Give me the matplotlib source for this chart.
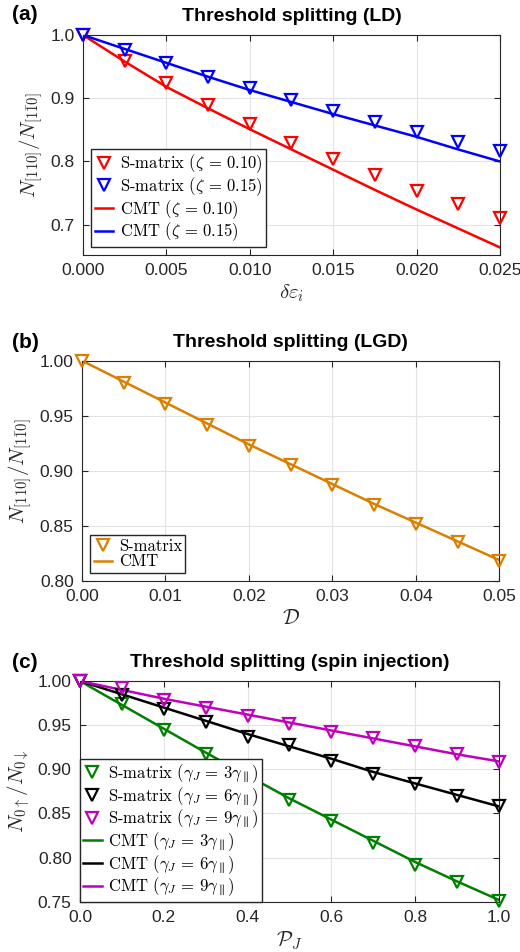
import numpy as np
import matplotlib.pyplot as plt

plt.rcParams['font.family'] = ['Liberation Sans', 'DejaVu Sans']
plt.rcParams['mathtext.fontset'] = 'cm'

# (a) LD
x_a = [0, 0.0025, 0.005, 0.0075, 0.010, 0.0125, 0.015, 0.0175, 0.020, 0.0225, 0.025]
s_a10 = [1.0, 0.959, 0.924, 0.889, 0.859, 0.829, 0.804, 0.779, 0.754, 0.733, 0.711]
s_a15 = [1.0, 0.977, 0.955, 0.934, 0.916, 0.897, 0.880, 0.863, 0.847, 0.831, 0.817]
c_a10 = [1.0, 0.958, 0.918, 0.884, 0.851, 0.819, 0.787, 0.755, 0.724, 0.694, 0.664]
c_a15 = [1.0, 0.978, 0.956, 0.934, 0.913, 0.894, 0.875, 0.857, 0.839, 0.819, 0.800]

# (b) LGD
x_b = [0, 0.005, 0.010, 0.015, 0.020, 0.025, 0.030, 0.035, 0.040, 0.045, 0.050]
s_b = [1.0, 0.980, 0.961, 0.942, 0.923, 0.905, 0.887, 0.869, 0.852, 0.835, 0.818]
c_b = [1.0, 0.981, 0.962, 0.943, 0.924, 0.906, 0.888, 0.870, 0.853, 0.836, 0.819]

# (c) spin injection
x_c = [0, 0.1, 0.2, 0.3, 0.4, 0.5, 0.6, 0.7, 0.8, 0.9, 1.0]
s_c3 = [1.0, 0.974, 0.945, 0.917, 0.893, 0.865, 0.841, 0.817, 0.792, 0.772, 0.751]
s_c6 = [1.0, 0.984, 0.968, 0.954, 0.937, 0.927, 0.909, 0.895, 0.883, 0.870, 0.858]
s_c9 = [1.0, 0.992, 0.979, 0.970, 0.960, 0.951, 0.942, 0.935, 0.926, 0.917, 0.908]
c_c3 = [1.0, 0.973, 0.946, 0.919, 0.893, 0.867, 0.843, 0.819, 0.795, 0.773, 0.752]
c_c6 = [1.0, 0.985, 0.970, 0.955, 0.940, 0.926, 0.912, 0.897, 0.884, 0.871, 0.858]
c_c9 = [1.0, 0.990, 0.980, 0.971, 0.962, 0.953, 0.944, 0.935, 0.926, 0.917, 0.909]

dark = '#262626'
orange = '#DA7F00'
green = '#008000'
magenta = '#BF00BF'

fig = plt.figure(figsize=(5.2, 9.52), dpi=100)
ax1 = fig.add_axes([0.1596, 0.7321, 0.8019, 0.2311])
ax2 = fig.add_axes([0.1577, 0.3897, 0.8025, 0.2314])
ax3 = fig.add_axes([0.1538, 0.0528, 0.8058, 0.2318])

mk = dict(marker='v', ls='none', ms=8.5, mfc='none', mew=1.6, clip_on=False, zorder=3)
lw = 1.8

def style(ax):
    ax.grid(True, color='#e3e3e3', lw=0.8)
    ax.set_axisbelow(True)
    ax.tick_params(direction='in', top=True, right=True, length=4, pad=6,
                   labelsize=12.5, colors=dark, width=0.8)
    for s in ax.spines.values():
        s.set_color(dark)
        s.set_linewidth(0.8)

leg_kw = dict(prop={'family': 'cmr10', 'size': 12}, fancybox=False,
              edgecolor=dark, framealpha=1, handlelength=1.1,
              handletextpad=0.4, borderpad=0.2, labelspacing=0.0)

# panel (a)
ax1.plot(x_a, s_a10, color='red', label=r'S-matrix ($\zeta\,=\,0.10$)', **mk)
ax1.plot(x_a, s_a15, color='blue', label=r'S-matrix ($\zeta\,=\,0.15$)', **mk)
ax1.plot(x_a, c_a10, color='red', lw=lw, label=r'CMT ($\zeta\,=\,0.10$)')
ax1.plot(x_a, c_a15, color='blue', lw=lw, label=r'CMT ($\zeta\,=\,0.15$)')
ax1.set_xlim(0, 0.025)
ax1.set_ylim(0.652, 1.0)
ax1.set_xticks([0, 0.005, 0.010, 0.015, 0.020, 0.025])
ax1.set_xticklabels(['0.000', '0.005', '0.010', '0.015', '0.020', '0.025'])
ax1.set_yticks([0.7, 0.8, 0.9, 1.0])
ax1.set_yticklabels(['0.7', '0.8', '0.9', '1.0'])
style(ax1)
ax1.set_xlabel(r'$\delta\varepsilon_i$', fontsize=15, color=dark, labelpad=3)
ax1.set_ylabel(r'$N_{[110]}/N_{[1\bar{1}0]}$', fontsize=15, color=dark, labelpad=4)
ax1.set_title('Threshold splitting (LD)', fontsize=14, fontweight='bold', pad=10)
ax1.legend(loc='lower left', **leg_kw)

# panel (b)
ax2.plot(x_b, s_b, color=orange, label='S-matrix', **mk)
ax2.plot(x_b, c_b, color=orange, lw=lw, label='CMT')
ax2.set_xlim(0, 0.05)
ax2.set_ylim(0.80, 1.00)
ax2.set_xticks([0, 0.01, 0.02, 0.03, 0.04, 0.05])
ax2.set_xticklabels(['0.00', '0.01', '0.02', '0.03', '0.04', '0.05'])
ax2.set_yticks([0.80, 0.85, 0.90, 0.95, 1.00])
ax2.set_yticklabels(['0.80', '0.85', '0.90', '0.95', '1.00'])
style(ax2)
ax2.set_xlabel(r'$\mathcal{D}$', fontsize=15, color=dark, labelpad=3)
ax2.set_ylabel(r'$N_{[110]}/N_{[1\bar{1}0]}$', fontsize=15, color=dark, labelpad=4)
ax2.set_title('Threshold splitting (LGD)', fontsize=14, fontweight='bold', pad=10)
ax2.legend(loc='lower left', **leg_kw)

# panel (c)
ax3.plot(x_c, s_c3, color=green, label=r'S-matrix ($\gamma_J\,=\,3\gamma_\parallel$)', **mk)
ax3.plot(x_c, s_c6, color='black', label=r'S-matrix ($\gamma_J\,=\,6\gamma_\parallel$)', **mk)
ax3.plot(x_c, s_c9, color=magenta, label=r'S-matrix ($\gamma_J\,=\,9\gamma_\parallel$)', **mk)
ax3.plot(x_c, c_c3, color=green, lw=lw, label=r'CMT ($\gamma_J\,=\,3\gamma_\parallel$)')
ax3.plot(x_c, c_c6, color='black', lw=lw, label=r'CMT ($\gamma_J\,=\,6\gamma_\parallel$)')
ax3.plot(x_c, c_c9, color=magenta, lw=lw, label=r'CMT ($\gamma_J\,=\,9\gamma_\parallel$)')
ax3.set_xlim(0, 1)
ax3.set_ylim(0.75, 1.00)
ax3.set_xticks([0, 0.2, 0.4, 0.6, 0.8, 1.0])
ax3.set_xticklabels(['0.0', '0.2', '0.4', '0.6', '0.8', '1.0'])
ax3.set_yticks([0.75, 0.80, 0.85, 0.90, 0.95, 1.00])
ax3.set_yticklabels(['0.75', '0.80', '0.85', '0.90', '0.95', '1.00'])
style(ax3)
ax3.set_xlabel(r'$\mathcal{P}_J$', fontsize=15, color=dark, labelpad=3)
ax3.set_ylabel(r'$N_{0\uparrow}/N_{0\downarrow}$', fontsize=15, color=dark, labelpad=4)
ax3.set_title('Threshold splitting (spin injection)', fontsize=14, fontweight='bold', pad=10)
leg3 = ax3.legend(loc='lower left', borderaxespad=0, **leg_kw)
leg3.set_zorder(5)

fig.text(12 / 520, 1 - 15 / 952, '(a)', fontsize=15, fontweight='bold', va='center')
fig.text(12 / 520, 1 - 342 / 952, '(b)', fontsize=15, fontweight='bold', va='center')
fig.text(12 / 520, 1 - 663 / 952, '(c)', fontsize=15, fontweight='bold', va='center')

fig.savefig('out.png', dpi=100)
